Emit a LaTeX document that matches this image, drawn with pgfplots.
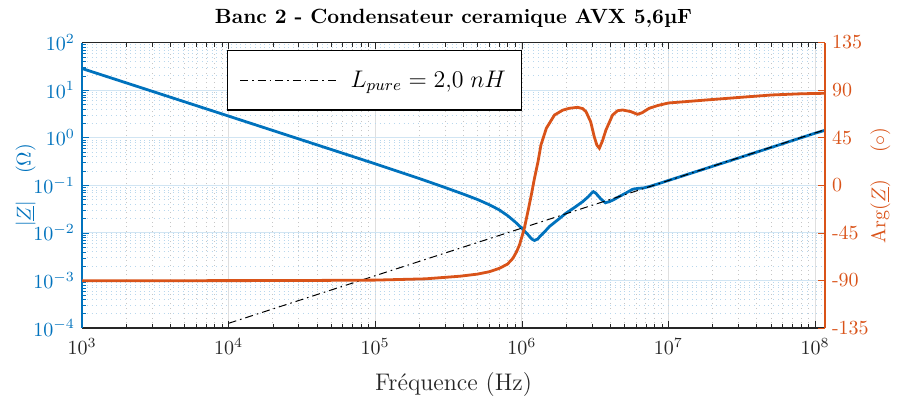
\documentclass[border=0pt]{standalone}
\usepackage{pgfplots}
\pgfplotsset{compat=1.18}

\definecolor{mblue}{RGB}{0,114,189}
\definecolor{morange}{RGB}{217,83,25}
\definecolor{axgray}{RGB}{38,38,38}

% |Z| mesuré (Ohm)
\pgfplotstableread{
f        Z
1e3      28.42
1e4      2.842
1e5      0.2823
2e5      0.1385
3e5      0.0895
4e5      0.0650
5e5      0.0500
6e5      0.0390
7e5      0.0305
8e5      0.0230
9e5      0.0170
1e6      0.0125
1.1e6    0.0092
1.17e6   0.0074
1.22e6   0.0069
1.28e6   0.0074
1.35e6   0.0088
1.45e6   0.0110
1.54e6   0.0135
1.75e6   0.0185
2.0e6    0.0258
2.3e6    0.0345
2.6e6    0.0452
2.85e6   0.0580
3.0e6    0.0690
3.08e6   0.0734
3.2e6    0.0680
3.45e6   0.0520
3.71e6   0.0430
3.95e6   0.0450
4.3e6    0.0510
4.6e6    0.0576
5.1e6    0.0680
5.7e6    0.0824
6.2e6    0.0860
6.8e6    0.0880
7.5e6    0.0950
8.5e6    0.1070
1e7      0.1260
2e7      0.2500
5e7      0.6200
1e8      1.2400
1.17e8   1.4300
}\modZ

% Arg(Z) mesuré (deg)
\pgfplotstableread{
f        phi
1e3      -90.3
1e4      -90.2
3e4      -90.1
1e5      -89.7
2.2e5    -88.5
3.8e5    -86.0
5e5      -84.0
6e5      -81.8
7.05e5   -78.5
8e5      -74.5
8.7e5    -69.0
9.2e5    -63.0
9.64e5   -56.5
1.0e6    -49.0
1.04e6   -40.7
1.1e6    -25.0
1.16e6   -9.4
1.22e6   6.6
1.29e6   22.3
1.35e6   38.0
1.47e6   53.9
1.67e6   66.4
1.9e6    71.0
2.11e6   72.8
2.4e6    73.7
2.6e6    72.5
2.74e6   69.6
2.95e6   60.0
3.12e6   45.9
3.25e6   38.0
3.38e6   35.0
3.55e6   42.0
3.75e6   52.3
4.16e6   66.4
4.5e6    70.5
4.87e6   71.2
5.55e6   69.6
6.15e6   67.1
6.6e6    68.5
7.4e6    72.8
8.5e6    75.5
1e7      77.8
1.8e7    80.6
3e7      83.0
5.1e7    85.4
8e7      86.5
1.17e8   87.0
}\argZ

\begin{document}
\begin{tikzpicture}
\begin{axis}[
    scale only axis,
    width=371.5pt, height=142.75pt,
    xmode=log, ymode=log,
    xmin=1e3, xmax=1.17e8,
    ymin=1e-4, ymax=1e2,
    axis x line*=box,
    axis y line*=left,
    tick align=inside,
    major tick length=3.5pt,
    minor tick length=2pt,
    x axis line style={axgray, line width=0.6pt},
    y axis line style={mblue, line width=0.6pt},
    xtick style={axgray},
    ytick style={mblue},
    xticklabel style={text=axgray, yshift=-1.5pt},
    yticklabel style={text=mblue},
    grid=both,
    major x grid style={gray!25, line width=0.4pt},
    minor x grid style={gray!45, dotted, line width=0.3pt},
    major y grid style={mblue!18, line width=0.4pt},
    minor y grid style={mblue!28, dotted, line width=0.3pt},
    title={\fontsize{10.3}{12}\selectfont\bfseries Banc 2 - Condensateur ceramique AVX 5,6µF},
    title style={yshift=-2pt},
    xlabel={\fontsize{12}{14}\selectfont Fréquence (Hz)},
    xlabel style={text=axgray, yshift=-2pt},
    ylabel={$\left|\underline{Z}\right|$ \quad ($\Omega$)},
    ylabel style={text=mblue},
    ylabel shift=-8pt,
    legend style={
        at={(0.195,0.974)}, anchor=north west,
        draw=black, line width=0.7pt,
        inner xsep=6pt, inner ysep=8pt,
        font=\fontsize{11.5}{13}\selectfont,
    },
    legend image code/.code={
        \draw[#1, line width=0.5pt] (0pt,0pt) -- (48pt,0pt);
    },
]
\coordinate (O) at (rel axis cs:0,0);
\addplot[mblue, line width=1.4pt, forget plot] table[x=f, y=Z] {\modZ};
\addplot[black, line width=0.5pt, dash pattern=on 4pt off 2pt on 0.8pt off 2pt]
    coordinates {(1e4,1.2566e-4) (1.17e8,1.4703)};
\addlegendentry{\hspace{5pt}$L_{pure} = 2{,}0 \; nH$\hspace{5pt}}
\end{axis}

\begin{axis}[
    scale only axis,
    width=371.5pt, height=142.75pt,
    xmode=log,
    xmin=1e3, xmax=1.17e8,
    ymin=-135, ymax=135,
    axis x line=none,
    axis y line*=right,
    tick align=inside,
    major tick length=3.5pt,
    y axis line style={morange, line width=0.6pt},
    ytick={-135,-90,-45,0,45,90,135},
    yticklabels={-135,-90,-45,0,45,90,135},
    ytick style={morange},
    yticklabel style={text=morange},
    ylabel={Arg($\underline{Z}$) \quad ($\circ$)},
    ylabel style={text=morange},
    ylabel shift=-6pt,
]
\addplot[morange, line width=1.4pt] table[x=f, y=phi] {\argZ};
\end{axis}

\pgfresetboundingbox
\path ([shift={(-41pt,-34.5pt)}]O) rectangle ([shift={(408pt,164pt)}]O);
\end{tikzpicture}
\end{document}
